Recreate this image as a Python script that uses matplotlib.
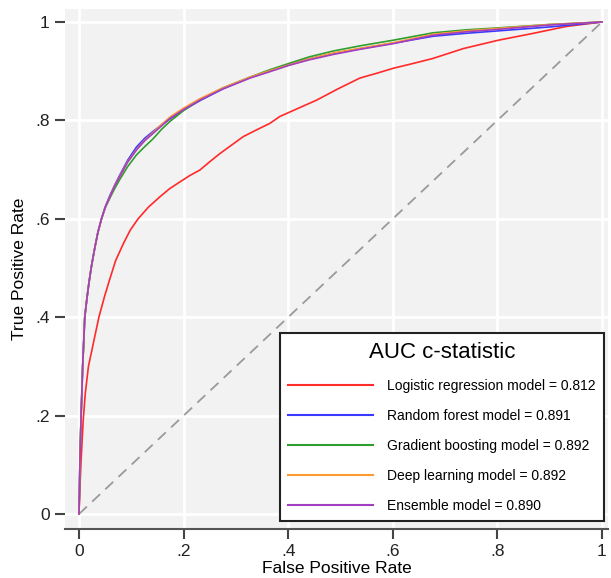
import matplotlib
matplotlib.use("Agg")
import matplotlib.pyplot as plt

plt.rcParams['font.family'] = ['Liberation Sans', 'DejaVu Sans']

# ROC points
fpr_lr = [0, 0.002, 0.004, 0.008, 0.012, 0.018, 0.028, 0.038, 0.049, 0.059, 0.070,
          0.085, 0.098, 0.113, 0.133, 0.155, 0.173, 0.193, 0.212, 0.231, 0.250,
          0.270, 0.292, 0.314, 0.340, 0.365, 0.384, 0.420, 0.454, 0.495, 0.537,
          0.570, 0.601, 0.640, 0.677, 0.735, 0.802, 0.869, 0.932, 1.0]
tpr_lr = [0, 0.06, 0.11, 0.19, 0.245, 0.30, 0.35, 0.40, 0.443, 0.478, 0.515,
          0.550, 0.577, 0.600, 0.624, 0.645, 0.661, 0.675, 0.688, 0.699, 0.716,
          0.733, 0.750, 0.767, 0.781, 0.794, 0.808, 0.825, 0.841, 0.864, 0.886,
          0.896, 0.906, 0.916, 0.926, 0.946, 0.963, 0.977, 0.991, 1.0]

fpr_top = [0, 0.002, 0.004, 0.007, 0.011, 0.015, 0.019, 0.024, 0.030, 0.036, 0.043,
           0.050, 0.059, 0.068, 0.078, 0.093, 0.110, 0.126, 0.142, 0.158, 0.174,
           0.200, 0.231, 0.275, 0.327, 0.365, 0.402, 0.440, 0.486, 0.540, 0.601,
           0.677, 0.740, 0.802, 0.901, 1.0]
tpr_rf = [0, 0.12, 0.20, 0.30, 0.40, 0.437, 0.47, 0.505, 0.54, 0.572, 0.600,
          0.624, 0.647, 0.668, 0.689, 0.719, 0.746, 0.764, 0.778, 0.791, 0.803,
          0.821, 0.840, 0.864, 0.887, 0.901, 0.914, 0.925, 0.936, 0.946, 0.957,
          0.971, 0.977, 0.982, 0.990, 1.0]
tpr_gb = [0, 0.12, 0.20, 0.30, 0.40, 0.437, 0.47, 0.505, 0.54, 0.572, 0.600,
          0.622, 0.642, 0.661, 0.680, 0.706, 0.730, 0.747, 0.763, 0.782, 0.798,
          0.820, 0.842, 0.866, 0.888, 0.903, 0.916, 0.929, 0.941, 0.952, 0.963,
          0.978, 0.984, 0.988, 0.995, 1.0]
tpr_dl = [0, 0.12, 0.20, 0.30, 0.40, 0.437, 0.47, 0.505, 0.54, 0.572, 0.600,
          0.623, 0.645, 0.667, 0.687, 0.716, 0.741, 0.760, 0.776, 0.792, 0.807,
          0.825, 0.844, 0.866, 0.888, 0.901, 0.913, 0.925, 0.937, 0.947, 0.958,
          0.975, 0.982, 0.987, 0.995, 1.0]
tpr_en = [0, 0.12, 0.20, 0.30, 0.40, 0.437, 0.47, 0.505, 0.54, 0.572, 0.600,
          0.623, 0.645, 0.666, 0.686, 0.715, 0.740, 0.759, 0.774, 0.789, 0.804,
          0.822, 0.841, 0.864, 0.886, 0.899, 0.912, 0.923, 0.934, 0.945, 0.956,
          0.973, 0.980, 0.985, 0.994, 1.0]

labels = ["Logistic regression model = 0.812",
          "Random forest model = 0.891",
          "Gradient boosting model = 0.892",
          "Deep learning model = 0.892",
          "Ensemble model = 0.890"]
colors = ["#ff2a2a", "#3a3aff", "#2e9e2e", "#ff9a33", "#a23fc0"]

ticks = [0, 0.2, 0.4, 0.6, 0.8, 1.0]
tick_labels = ["0", ".2", ".4", ".6", ".8", "1"]

fig = plt.figure(figsize=(6.11, 5.78), dpi=100)
ax = fig.add_axes([65 / 611, 1 - 529 / 578, 543 / 611, 520 / 578])
ax.set_facecolor("#f2f2f2")

# chance line
ax.plot([0, 1], [0, 1], color="#9a9a9a", lw=1.3, ls=(0, (6, 4)), zorder=2)

series = [(fpr_lr, tpr_lr), (fpr_top, tpr_rf), (fpr_top, tpr_gb),
          (fpr_top, tpr_dl), (fpr_top, tpr_en)]
for (x, y), lab, c in zip(series, labels, colors):
    ax.plot(x, y, color=c, lw=1.2, label=lab, zorder=3)

ax.set_xlim(-0.0268, 1.0115)
ax.set_ylim(-0.0305, 1.0264)
ax.set_xticks(ticks)
ax.set_xticklabels(tick_labels)
ax.set_yticks(ticks)
ax.set_yticklabels(tick_labels)
ax.grid(True, color="white", lw=2, zorder=1)
ax.set_axisbelow(True)

for s in ["top", "right", "left"]:
    ax.spines[s].set_visible(False)
ax.spines["bottom"].set_color("#555555")
ax.spines["bottom"].set_linewidth(1.5)
ax.tick_params(axis="both", direction="out", length=7, width=1.5,
               color="#444444", labelsize=12.5, labelcolor="#222222")
ax.tick_params(axis="y", pad=4)
ax.tick_params(axis="x", pad=4)

ax.set_xlabel("False Positive Rate", fontsize=12.5, labelpad=1)
ax.set_ylabel("True Positive Rate", fontsize=12.5, labelpad=6)

leg = ax.legend(loc="lower right", bbox_to_anchor=(604 / 611, 1 - 521 / 578),
                bbox_transform=fig.transFigure, borderaxespad=0,
                title="AUC c-statistic",
                title_fontsize=16, fontsize=10, handlelength=6.1,
                handletextpad=1.0, labelspacing=1.15, borderpad=0.6,
                fancybox=False, framealpha=1, edgecolor="#222222")
leg.get_frame().set_linewidth(1.5)
for line in leg.get_lines():
    line.set_linewidth(1.5)

fig.savefig("out.png", dpi=100)
